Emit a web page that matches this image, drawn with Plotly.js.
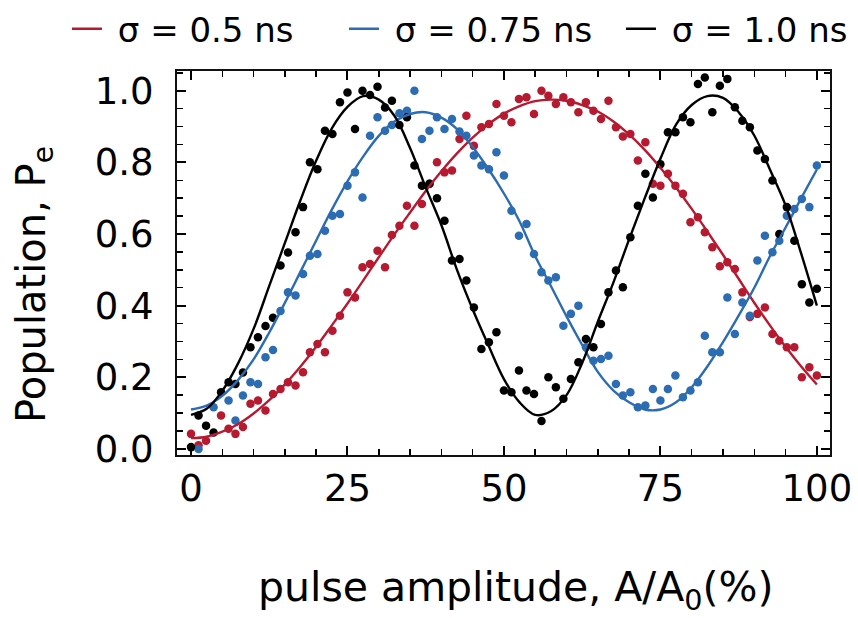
<!DOCTYPE html>
<html>
<head>
<meta charset="utf-8">
<script src="https://cdn.plot.ly/plotly-3.0.1.min.js"></script>
<style>
html,body{margin:0;padding:0;background:#fff;}
#chart{width:858px;height:618px;}
</style>
</head>
<body>
<div id="chart"></div>
<script>
// ---- data ----
const amplitude = [0, 1.2, 2.4, 3.6, 4.8, 6.0, 7.1, 8.3, 9.5, 10.7,
  11.9, 13.1, 14.3, 15.5, 16.7, 17.9, 19.0, 20.2, 21.4, 22.6,
  23.8, 25.0, 26.2, 27.4, 28.6, 29.8, 31.0, 32.1, 33.3, 34.5,
  35.7, 36.9, 38.1, 39.3, 40.5, 41.7, 42.9, 44.0, 45.2, 46.4,
  47.6, 48.8, 50.0, 51.2, 52.4, 53.6, 54.8, 56.0, 57.1, 58.3,
  59.5, 60.7, 61.9, 63.1, 64.3, 65.5, 66.7, 67.9, 69.0, 70.2,
  71.4, 72.6, 73.8, 75.0, 76.2, 77.4, 78.6, 79.8, 81.0, 82.1,
  83.3, 84.5, 85.7, 86.9, 88.1, 89.3, 90.5, 91.7, 92.9, 94.0,
  95.2, 96.4, 97.6, 98.8, 100];

const popSigma05 = [0.042, 0.010, 0.023, null, 0.093, 0.056, 0.042, 0.061, 0.126, 0.135,
  0.107, 0.153, 0.167, 0.186, 0.177, 0.214, 0.270, 0.293, 0.270, 0.330,
  0.372, 0.437, 0.423, 0.507, 0.516, 0.553, 0.507, 0.597, 0.623, 0.679,
  0.623, 0.684, 0.740, 0.800, 0.772, 0.777, 0.865, 0.930, 0.846, 0.898,
  0.907, 0.963, 0.930, 0.912, 0.977, 0.982, 0.935, 1.000, 0.986, 0.963,
  0.982, 0.968, 0.940, 0.968, 0.944, 0.921, 0.972, 0.898, 0.872, 0.879,
  0.805, 0.856, 0.740, 0.735, 0.768, 0.735, 0.712, 0.633, 0.647, 0.605,
  0.563, 0.510, 0.521, 0.502, 0.437, 0.368, 0.377, 0.395, 0.321, 0.302,
  0.284, 0.284, 0.200, 0.228, 0.205];

const popSigma075 = [null, 0.000, null, 0.116, null, 0.135, 0.079, 0.149, 0.186, 0.181,
  0.256, 0.276, 0.385, 0.437, 0.428, 0.488, 0.539, 0.544, 0.609, 0.651,
  0.656, 0.735, 0.772, 0.702, 0.874, 0.926, 0.888, 0.904, 0.937, 0.944,
  1.000, 0.865, 0.888, 0.926, 0.893, 0.921, 0.886, 0.874, 0.819, 0.791,
  0.781, 0.828, 0.763, 0.665, 0.595, 0.628, 0.544, 0.493, 0.470, 0.479,
  0.344, 0.377, 0.400, 0.284, 0.246, 0.251, 0.260, 0.181, 0.149, 0.158,
  0.116, 0.121, 0.167, 0.135, 0.167, 0.205, 0.144, 0.163, 0.186, 0.316,
  0.270, 0.270, 0.423, 0.321, 0.409, 0.372, 0.526, 0.595, 0.549, 0.581,
  0.651, 0.670, 0.698, 0.675, 0.791];

const popSigma10 = [0.005, 0.093, 0.065, 0.046, 0.158, 0.186, 0.181, 0.213, 0.284, 0.312,
  0.343, 0.366, 0.512, 0.548, 0.605, 0.675, 0.800, 0.781, 0.888, 0.879,
  0.968, 0.995, 0.893, 1.000, 0.988, 1.011, 0.953, 0.972, 0.904, 0.926,
  0.791, 0.735, 0.740, 0.700, 0.637, 0.526, 0.530, 0.470, 0.395, 0.279,
  0.298, 0.326, 0.163, 0.158, 0.219, 0.163, 0.153, 0.078, 0.200, 0.172,
  0.140, 0.195, 0.242, 0.307, 0.284, 0.349, 0.437, 0.498, 0.451, 0.591,
  0.679, 0.768, 0.702, 0.795, 0.884, 0.884, 0.926, 0.912, 1.019, 1.037,
  0.940, 1.014, 1.033, 0.954, 0.916, 0.898, 0.833, 0.809, 0.749, 0.600,
  0.675, 0.581, 0.460, 0.409, 0.447];

const fitAmplitude = [0, 2.5, 5, 7.5, 10, 12.5, 15, 17.5, 20, 22.5,
  25, 27.5, 30, 32.5, 35, 37.5, 40, 42.5, 45, 47.5,
  50, 52.5, 55, 57.5, 60, 62.5, 65, 67.5, 70, 72.5,
  75, 77.5, 80, 82.5, 85, 87.5, 90, 92.5, 95, 97.5, 100];

const fitSigma05 = [0.030, 0.034, 0.048, 0.069, 0.099, 0.136, 0.180, 0.230, 0.285, 0.345,
  0.406, 0.470, 0.535, 0.599, 0.660, 0.720, 0.775, 0.825, 0.869, 0.906,
  0.936, 0.957, 0.971, 0.975, 0.972, 0.960, 0.942, 0.914, 0.878, 0.835,
  0.785, 0.730, 0.670, 0.607, 0.542, 0.475, 0.408, 0.345, 0.285, 0.230, 0.180];

const fitSigma075 = [0.110, 0.121, 0.148, 0.192, 0.250, 0.325, 0.408, 0.495, 0.582, 0.668,
  0.747, 0.816, 0.874, 0.914, 0.935, 0.940, 0.925, 0.893, 0.843, 0.782,
  0.713, 0.635, 0.538, 0.455, 0.370, 0.290, 0.215, 0.163, 0.130, 0.110,
  0.110, 0.130, 0.172, 0.230, 0.298, 0.372, 0.450, 0.538, 0.618, 0.700, 0.780];

const fitSigma10 = [0.095, 0.112, 0.162, 0.238, 0.335, 0.455, 0.575, 0.695, 0.805, 0.895,
  0.955, 0.985, 0.975, 0.930, 0.840, 0.730, 0.625, 0.500, 0.390, 0.290,
  0.195, 0.130, 0.095, 0.105, 0.150, 0.240, 0.355, 0.465, 0.585, 0.700,
  0.810, 0.905, 0.960, 0.985, 0.980, 0.940, 0.875, 0.780, 0.680, 0.545, 0.400];

const seriesNames = ['σ = 0.5 ns', 'σ = 0.75 ns', 'σ = 1.0 ns'];
const xTickVals = [0, 25, 50, 75, 100];
const xTickText = ['0', '25', '50', '75', '100'];
const yTickVals = [0, 0.2, 0.4, 0.6, 0.8, 1.0];
const yTickText = ['0.0', '0.2', '0.4', '0.6', '0.8', '1.0'];
const xTitle = 'pulse amplitude, A/A<sub>0</sub>(%)';
const yTitle = 'Population, P<sub>e</sub>';

// ---- drawing ----
const RED = '#b61a30', BLUE = '#2b6cb2', BLACK = '#000000';
const FONT = 'DejaVu Sans, sans-serif';
const NB = '\u00a0';

function pts(y, color, name) {
  return {x: amplitude, y: y, type: 'scatter', mode: 'markers', name: name,
    showlegend: false, marker: {color: color, size: 8.5, line: {width: 0}}};
}
function fit(y, color, name) {
  return {x: fitAmplitude, y: y, type: 'scatter', mode: 'lines', name: NB + name,
    line: {color: color, width: 2.4, shape: 'spline', smoothing: 1}};
}

const data = [
  pts(popSigma05, RED, seriesNames[0]),
  pts(popSigma075, BLUE, seriesNames[1]),
  pts(popSigma10, BLACK, seriesNames[2]),
  fit(fitSigma05, RED, seriesNames[0]),
  fit(fitSigma075, BLUE, seriesNames[1]),
  fit(fitSigma10, BLACK, seriesNames[2])
];

const axisCommon = {
  ticks: 'inside', ticklen: 9, tickwidth: 2, tickcolor: '#000',
  showline: true, linewidth: 2, linecolor: '#111', mirror: 'ticks',
  showgrid: false, zeroline: false,
  tickfont: {family: FONT, size: 37, color: '#000'}
};

const layout = {
  width: 858, height: 618,
  margin: {l: 177, r: 28, t: 71, b: 163, autoexpand: false},
  paper_bgcolor: '#fff', plot_bgcolor: '#fff',
  font: {family: FONT, color: '#000'},
  showlegend: true,
  legend: {orientation: 'h', x: -0.1685, xanchor: 'left', y: 1.109, yanchor: 'middle',
    entrywidth: 232, entrywidthmode: 'pixels', itemwidth: 30, tracegroupgap: 0,
    bgcolor: 'rgba(0,0,0,0)', borderwidth: 0,
    font: {family: FONT, size: 34, color: '#000'}},
  xaxis: Object.assign({}, axisCommon, {
    range: [-2.24, 102.1], tickmode: 'array', tickvals: xTickVals, ticktext: xTickText,
    minor: {tickmode: 'linear', tick0: 0, dtick: 5, ticks: 'inside', ticklen: 6, tickwidth: 1.5, tickcolor: '#000', showgrid: false},
    ticklabelstandoff: 0
  }),
  yaxis: Object.assign({}, axisCommon, {
    range: [-0.017, 1.055], tickmode: 'array', tickvals: yTickVals, ticktext: yTickText,
    minor: {tickmode: 'linear', tick0: 0, dtick: 0.05, ticks: 'inside', ticklen: 6, tickwidth: 1.5, tickcolor: '#000', showgrid: false},
    ticklabelstandoff: 14
  }),
  annotations: [
    {text: xTitle, xref: 'paper', yref: 'paper', x: 0.5184, y: -0.352,
      xanchor: 'center', yanchor: 'middle', showarrow: false,
      font: {family: FONT, size: 41, color: '#000'}},
    {text: yTitle, xref: 'paper', yref: 'paper', x: -0.219, y: 0.4453,
      xanchor: 'center', yanchor: 'middle', textangle: -90, showarrow: false,
      font: {family: FONT, size: 40, color: '#000'}}
  ]
};

Plotly.newPlot('chart', data, layout, {displayModeBar: false, staticPlot: true});
</script>
</body>
</html>
